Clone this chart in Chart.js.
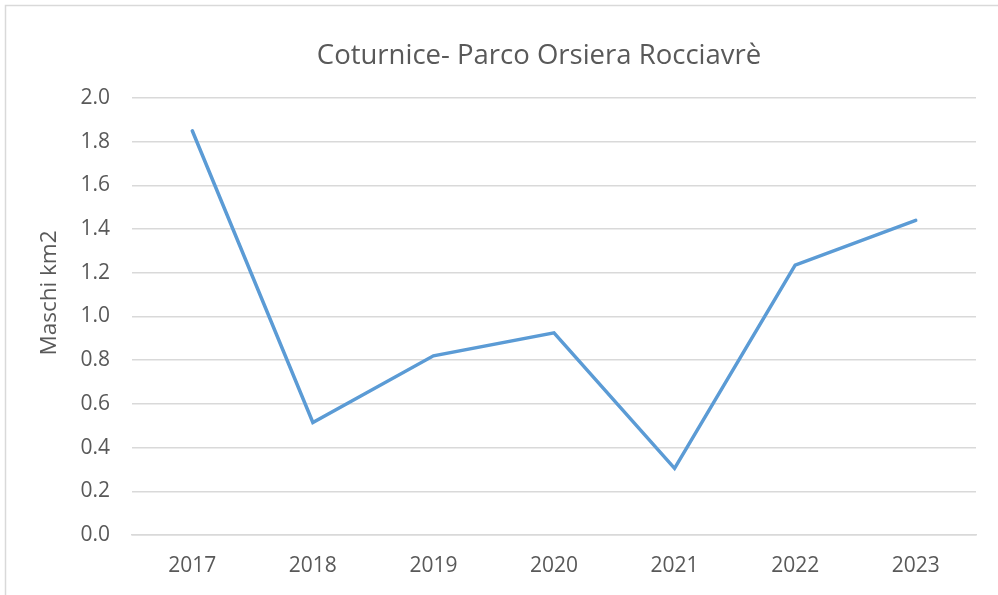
<!DOCTYPE html>
<html>
<head>
<meta charset="utf-8">
<script src="https://cdn.jsdelivr.net/npm/chart.js@4/dist/chart.umd.min.js"></script>
<style>
  html, body { margin: 0; padding: 0; background: #fff; }
  #wrap { width: 998px; height: 595px; position: relative; }
</style>
</head>
<body>
<div id="wrap"><canvas id="myChart" width="998" height="595"></canvas></div>
<script>
var anni = ["2017", "2018", "2019", "2020", "2021", "2022", "2023"];
var maschiKm2 = [1.85, 0.515, 0.82, 0.925, 0.305, 1.235, 1.44];
var titolo = "Coturnice- Parco Orsiera Rocciavrè";
var titoloAsse = "Maschi km2";

var grigio = "#595959";
var griglia = "#d9d9d9";

// titolo, titolo asse e cornice come nel grafico Excel
var cornice = {
    id: "cornice",
    afterDraw: function (chart) {
        var ctx = chart.ctx;
        ctx.save();
        ctx.strokeStyle = griglia;
        ctx.lineWidth = 1.5;
        ctx.strokeRect(5.5, 5.5, 1100, 1100);
        ctx.fillStyle = grigio;
        ctx.textAlign = "center";
        ctx.textBaseline = "middle";
        ctx.font = "27.5px 'Open Sans'";
        ctx.fillText(titolo, 539, 56);
        ctx.translate(50, 293);
        ctx.rotate(-Math.PI / 2);
        ctx.font = "22.5px 'Open Sans'";
        ctx.fillText(titoloAsse, 0, 0);
        ctx.restore();
    }
};

new Chart("myChart", {
    type: "line",
    data: {
        labels: anni,
        datasets: [{
            data: maschiKm2,
            borderColor: "#5b9bd5",
            borderWidth: 3.5,
            pointRadius: 0,
            tension: 0,
            borderCapStyle: "round",
            borderJoinStyle: "miter"
        }]
    },
    options: {
        responsive: false,
        animation: false,
        layout: { padding: { top: 98, right: 22, bottom: 0, left: 0 } },
        plugins: {
            legend: { display: false },
            title: { display: false },
            tooltip: { enabled: false }
        },
        scales: {
            x: {
                offset: true,
                grid: { display: false, drawTicks: false },
                border: { display: true, color: griglia, width: 1.5 },
                ticks: { color: grigio, font: { family: "Open Sans", size: 21 }, padding: 18 },
                afterFit: function (s) { s.height = 60; }
            },
            y: {
                min: 0,
                max: 2,
                grid: { color: griglia, lineWidth: 1.5, drawTicks: false },
                border: { display: false },
                ticks: {
                    stepSize: 0.2,
                    color: grigio,
                    font: { family: "Open Sans", size: 21 },
                    padding: 22,
                    callback: function (v) { return v.toFixed(1); }
                },
                afterFit: function (s) { s.width = 132; }
            }
        }
    },
    plugins: [cornice]
});
</script>
</body>
</html>
